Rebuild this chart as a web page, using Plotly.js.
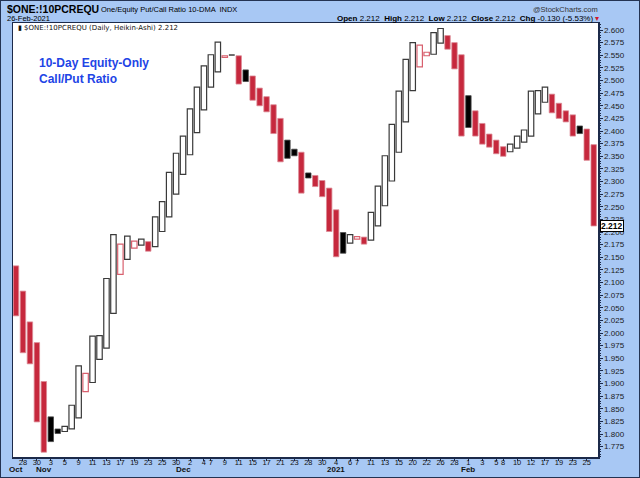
<!DOCTYPE html>
<html>
<head>
<meta charset="utf-8">
<script src="https://cdn.plot.ly/plotly-3.0.1.min.js"></script>
<style>
  html, body { margin: 0; padding: 0; background: #a8c8f4; }
  #frame { width: 640px; height: 478px; box-sizing: border-box; border: 1px solid #243352; }
  #chart { width: 638px; height: 476px; }
</style>
</head>
<body>
<div id="frame"><div id="chart"></div></div>
<script>
// Heikin-Ashi bodies, one per trading day, 27-Oct-2020 .. 26-Feb-2021
const haOpen = [
  2.133, 2.083, 2.022, 1.981, 1.904, 1.834, 1.810, 1.805, 1.810, 1.832,
  1.884, 1.902, 1.948, 1.970, 2.039, 2.116, 2.146, 2.168, 2.174, 2.181,
  2.171, 2.201, 2.230, 2.275, 2.314, 2.353, 2.397, 2.442, 2.487, 2.517,
  2.546, 2.551, 2.549, 2.521, 2.509, 2.485, 2.468, 2.452, 2.425, 2.382,
  2.364, 2.358, 2.317, 2.312, 2.302, 2.287, 2.244, 2.199, 2.178, 2.186,
  2.190, 2.184, 2.212, 2.252, 2.301, 2.358, 2.418, 2.480, 2.527, 2.549,
  2.552, 2.574, 2.589, 2.575, 2.551, 2.470, 2.440, 2.415, 2.394, 2.382,
  2.369, 2.359, 2.366, 2.378, 2.390, 2.434, 2.457, 2.473, 2.455, 2.440,
  2.432, 2.410, 2.404, 2.373
];
const haClose = [
  2.034, 1.961, 1.939, 1.824, 1.764, 1.785, 1.801, 1.815, 1.857, 1.935,
  1.920, 1.994, 1.995, 2.108, 2.195, 2.176, 2.192, 2.182, 2.186, 2.162,
  2.230, 2.260, 2.318, 2.356, 2.390, 2.444, 2.487, 2.529, 2.551, 2.576,
  2.549, 2.550, 2.493, 2.498, 2.461, 2.450, 2.438, 2.395, 2.339, 2.346,
  2.351, 2.277, 2.307, 2.290, 2.270, 2.201, 2.151, 2.158, 2.195, 2.191,
  2.176, 2.239, 2.291, 2.351, 2.413, 2.479, 2.542, 2.575, 2.570, 2.556,
  2.595, 2.603, 2.562, 2.523, 2.390, 2.407, 2.390, 2.374, 2.368, 2.355,
  2.350, 2.374, 2.390, 2.402, 2.479, 2.480, 2.487, 2.436, 2.425, 2.418,
  2.390, 2.395, 2.342, 2.212
];

// day labels (trading-day index -> day of month)
const dayTickIdx = [1, 3, 5, 7, 9, 11, 13, 15, 17, 19, 21, 23,
  25, 27, 28, 30, 32, 34, 36, 38, 40, 42, 44,
  46, 48, 49, 51, 53, 55, 57, 59, 61, 63,
  65, 67, 69, 70, 72, 74, 76, 78, 80, 82];
const dayTickText = ["28", "30", "3", "5", "9", "11", "13", "17", "19", "23", "25", "30",
  "2", "4", "7", "9", "11", "15", "17", "21", "23", "28", "30",
  "4", "6", "7", "11", "13", "15", "20", "22", "26", "28",
  "1", "3", "5", "8", "10", "12", "17", "19", "23", "25"];
const monthTickIdx = [0, 4, 24, 46, 65];
const monthTickText = ["Oct", "Nov", "Dec", "2021", "Feb"];

const lastClose = 2.212;

// colours: hollow when close > open, red when close < previous close
const RED = "#c6283d";
let fill = [], edge = [], edgeW = [];
for (let i = 0; i < haOpen.length; i++) {
  let prev = i > 0 ? haClose[i - 1] : haOpen[i];
  let hollow = haClose[i] > haOpen[i];
  let down = haClose[i] < prev;
  if (hollow) {
    fill.push("#ffffff");
    edge.push(down ? "#d8606e" : "#3a3a3a");
    edgeW.push(1.2);
  } else {
    fill.push(down ? RED : "#000000");
    edge.push(down ? "#dc8a95" : "#4a4a4a");
    edgeW.push(0.8);
  }
}

let xs = haOpen.map((v, i) => i);
let body = haOpen.map((v, i) => haClose[i] - v);

const W = 638, H = 476, ML = 12, MR = 41, MT = 22, MB = 20;
const PW = W - ML - MR, PH = H - MT - MB;
function px(x) { return (x - ML) / PW; }
function py(y) { return 1 - (y - MT) / PH; }

let data = [
  {
    type: "bar",
    x: xs,
    y: body,
    base: haOpen,
    width: 0.78,
    marker: { color: fill, line: { color: edge, width: edgeW } },
    hoverinfo: "skip"
  }
];

let axisFont = { family: "Liberation Sans, Arial, sans-serif", size: 8, color: "#1a1a1a" };

let annotations = [
  {
    xref: "paper", yref: "paper", x: px(4), y: py(8.5), xanchor: "left", yanchor: "middle",
    text: "<b>$ONE:!10PCREQU</b>", showarrow: false,
    font: { family: "Liberation Sans, Arial, sans-serif", size: 10.5, color: "#000" }
  },
  {
    xref: "paper", yref: "paper", x: px(98), y: py(8), xanchor: "left", yanchor: "middle",
    text: "One/Equity Put/Call Ratio 10-DMA  INDX", showarrow: false,
    font: { family: "Liberation Sans, Arial, sans-serif", size: 7.5, color: "#000" }
  },
  {
    xref: "paper", yref: "paper", x: px(4), y: py(17.5), xanchor: "left", yanchor: "middle",
    text: "26-Feb-2021", showarrow: false,
    font: { family: "Liberation Sans, Arial, sans-serif", size: 7.5, color: "#000" }
  },
  {
    xref: "paper", yref: "paper", x: px(599), y: py(8), xanchor: "right", yanchor: "middle",
    text: "@StockCharts.com", showarrow: false,
    font: { family: "Liberation Sans, Arial, sans-serif", size: 7.5, color: "#333" }
  },
  {
    xref: "paper", yref: "paper", x: px(600), y: py(17.5), xanchor: "right", yanchor: "middle",
    text: "<b>Open</b> 2.212  <b>High</b> 2.212  <b>Low</b> 2.212  <b>Close</b> 2.212  <b>Chg</b> -0.130 (-5.53%) <span style='color:#d01c2c'>▾</span>",
    showarrow: false,
    font: { family: "Liberation Sans, Arial, sans-serif", size: 8, color: "#000" }
  },
  {
    xref: "paper", yref: "paper", x: px(15), y: py(26.5), xanchor: "left", yanchor: "middle",
    text: "▮ $ONE:!10PCREQU (Daily, Heikin-Ashi) 2.212", showarrow: false,
    font: { family: "DejaVu Sans, sans-serif", size: 7, color: "#111" }
  },
  {
    xref: "paper", yref: "paper", x: px(36), y: py(53), xanchor: "left", yanchor: "top",
    align: "left",
    text: "10-Day Equity-Only<br>Call/Put Ratio", showarrow: false,
    font: { family: "Liberation Sans, Arial, sans-serif", size: 12, color: "#2244e6", weight: 700 }
  },
  {
    xref: "paper", yref: "y", x: 1, y: lastClose, xanchor: "left", yanchor: "middle",
    xshift: 2, text: "<b>" + lastClose.toFixed(3) + "</b>", showarrow: false,
    bgcolor: "#ffffff", bordercolor: "#000", borderwidth: 1, borderpad: 0,
    font: { family: "Liberation Sans, Arial, sans-serif", size: 8.5, color: "#000" }
  }
];

// month names on the second row under the day numbers
monthTickIdx.forEach((d, i) => {
  annotations.push({
    xref: "x", yref: "paper", x: d, y: py(468.5), xanchor: "center", yanchor: "middle",
    text: "<b>" + monthTickText[i] + "</b>", showarrow: false,
    font: { family: "Liberation Sans, Arial, sans-serif", size: 8, color: "#111" }
  });
});

let layout = {
  width: W,
  height: H,
  margin: { l: ML, r: MR, t: MT, b: MB },
  paper_bgcolor: "#a8c8f4",
  plot_bgcolor: "#ffffff",
  showlegend: false,
  bargap: 0,
  xaxis: {
    range: [-0.43, 83.62],
    tickmode: "array",
    tickvals: dayTickIdx,
    ticktext: dayTickText,
    tickangle: 0,
    ticks: "outside",
    ticklen: 2,
    tickcolor: "#1c2a4a",
    ticklabelstandoff: -5,
    tickfont: { family: "Liberation Sans, Arial, sans-serif", size: 7.5, color: "#111" },
    showgrid: false,
    zeroline: false,
    showline: true,
    linecolor: "#1c2a4a",
    linewidth: 1.5,
    mirror: true,
    fixedrange: true
  },
  yaxis: {
    side: "right",
    range: [1.7545, 2.6139],
    tickmode: "linear",
    tick0: 1.775,
    dtick: 0.025,
    tickformat: ".3f",
    ticks: "outside",
    ticklen: 3,
    tickcolor: "#1c2a4a",
    minor: { dtick: 0.005, ticks: "outside", ticklen: 1.5, tickcolor: "#1c2a4a" },
    tickfont: axisFont,
    showgrid: false,
    zeroline: false,
    showline: true,
    linecolor: "#1c2a4a",
    linewidth: 1.5,
    mirror: true,
    fixedrange: true
  },
  annotations: annotations
};

Plotly.newPlot("chart", data, layout, { displayModeBar: false, staticPlot: true });
</script>
</body>
</html>
